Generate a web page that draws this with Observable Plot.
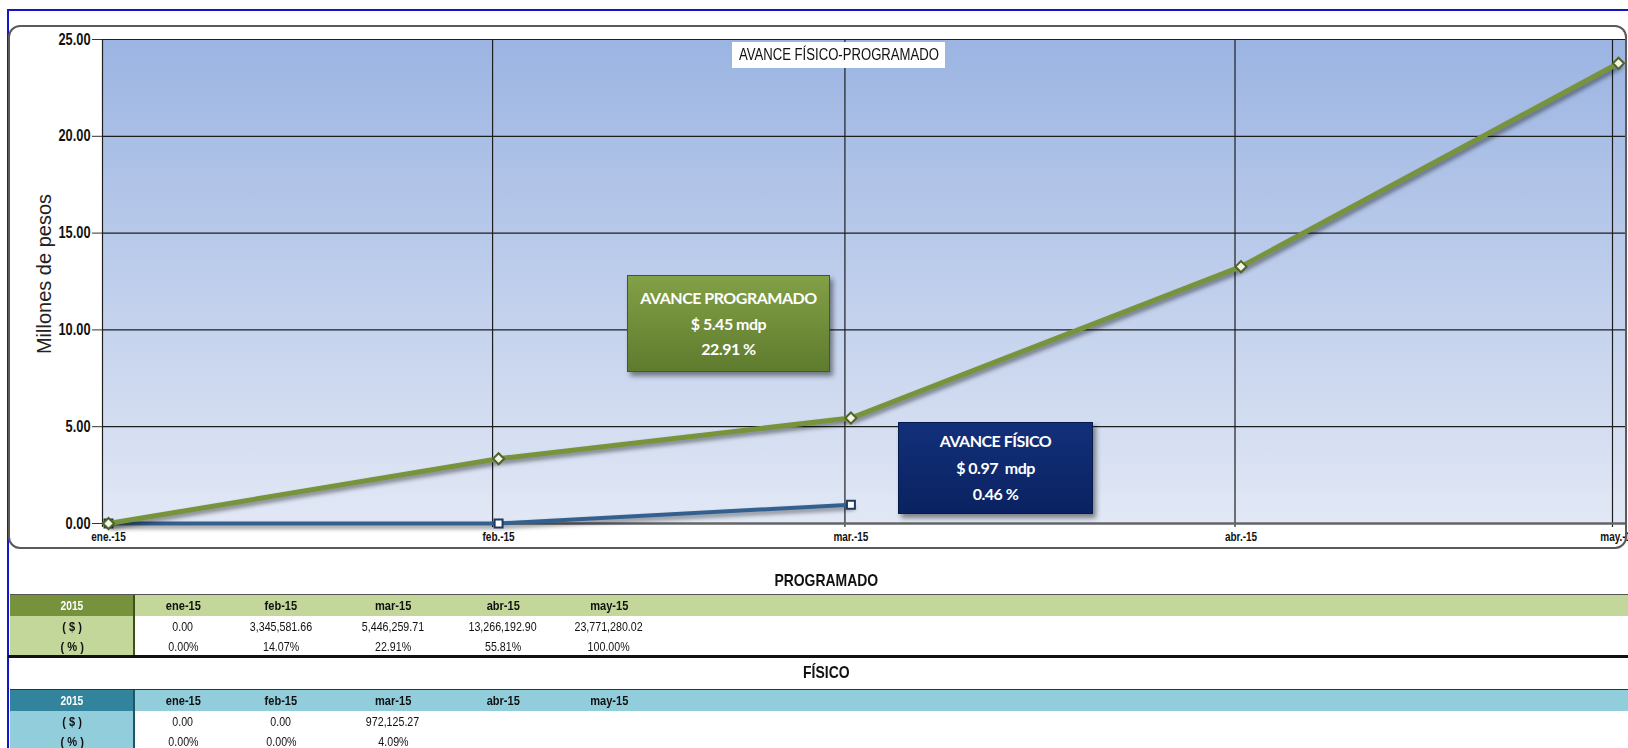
<!DOCTYPE html>
<html><head><meta charset="utf-8">
<script src="https://cdn.jsdelivr.net/npm/d3@7"></script>
<script src="https://cdn.jsdelivr.net/npm/@observablehq/plot@0.6"></script>
<style>
html,body{margin:0;padding:0;background:#fff;}
#wrap{position:relative;width:1628px;height:748px;overflow:hidden;font-family:"Liberation Sans",Arial,sans-serif;color:#111;}
#wrap svg{position:absolute;left:0;top:0;}
.abs{position:absolute;box-sizing:border-box;}
.ann{display:flex;flex-direction:column;justify-content:center;align-items:center;color:#fff;font-family:Lato,"Open Sans",sans-serif;font-weight:bold;font-size:16px;letter-spacing:-0.5px;box-shadow:3px 4px 5px rgba(0,0,0,0.45);}
.cell{position:absolute;box-sizing:border-box;display:flex;justify-content:center;align-items:center;white-space:nowrap;}
.nar{display:inline-block;transform:scaleX(0.82);transform-origin:50% 50%;white-space:pre;flex:none;}
</style></head>
<body><div id="wrap"></div>
<script>
// ---------- data ----------
const monthDates = ["2015-01-01","2015-02-01","2015-03-01","2015-04-01","2015-05-01"];
const axisMonths = ["ene.-15","feb.-15","mar.-15","abr.-15","may.-15"];
const tableMonths = ["ene-15","feb-15","mar-15","abr-15","may-15"];
const programadoPesos = [0.00, 3345581.66, 5446259.71, 13266192.90, 23771280.02];
const programadoPct = [0.00, 14.07, 22.91, 55.81, 100.00];
const fisicoPesos = [0.00, 0.00, 972125.27];
const fisicoPct = [0.00, 0.00, 4.09];
const yTicks = [0, 5, 10, 15, 20, 25];
const chartTitle = "AVANCE FÍSICO-PROGRAMADO";
const yLabel = "Millones de pesos";
const annProgramado = ["AVANCE PROGRAMADO", "$ 5.45 mdp", "22.91 %"];
const annFisico = ["AVANCE FÍSICO", "$ 0.97  mdp", "0.46 %"];
const yearLabel = "2015";
const rowLabels = ["( $ )", "( % )"];
const sectionTitles = ["PROGRAMADO", "FÍSICO"];

// ---------- chart ----------
const SANS = '"Liberation Sans",Arial,sans-serif';
const dates = monthDates.map(d => new Date(d + "T00:00:00Z"));
const progData = programadoPesos.map((v, i) => ({date: dates[i], value: v / 1e6}));
const fisData = fisicoPesos.map((v, i) => ({date: dates[i], value: v / 1e6}));
const labelOf = d => axisMonths[dates.findIndex(t => +t === +d)];

const chart = Plot.plot({
  width: 1628, height: 560,
  marginLeft: 102, marginRight: 3, marginTop: 39, marginBottom: 36,
  style: {background: "transparent", fontFamily: SANS, overflow: "visible", color: "#111"},
  x: {type: "utc", domain: [dates[0], dates[dates.length - 1]], range: [108, 1618], label: null},
  y: {domain: [0, 25], range: [523, 39], label: null},
  marks: [
    Plot.frame({fill: "url(#plotbg)", stroke: null}),
    Plot.ruleY(yTicks.filter(v => v > 0), {stroke: "#1e1e1e", strokeWidth: 1.2}),
    Plot.ruleX(dates, {dx: -6, stroke: "#1e1e1e", strokeWidth: 1.2, insetBottom: -3}),
    Plot.ruleY([0], {stroke: "#666", strokeWidth: 2.5}),
    Plot.axisY({ticks: yTicks, tickFormat: d3.format(".2f"), tickSize: 10, tickPadding: 2,
      fontSize: 16, fontWeight: "bold", stroke: "#333", label: null}),
    Plot.axisX({ticks: dates, tickFormat: labelOf, tickSize: 0, tickPadding: 8,
      fontSize: 12.5, fontWeight: "bold", label: null}),
    Plot.line(fisData, {x: "date", y: "value", stroke: "#34608f", strokeWidth: 4}),
    Plot.dot(fisData, {x: "date", y: "value", symbol: "square", r: 4.5, fill: "#fff", stroke: "#1f3864", strokeWidth: 2}),
    Plot.line(progData, {x: "date", y: "value", stroke: "#77933c", strokeWidth: 5}),
    Plot.dot(progData, {x: "date", y: "value", symbol: "diamond2", r: 5, fill: "#f3f5e4", stroke: "#4f6228", strokeWidth: 2})
  ]
});
const svg = d3.select(chart);
svg.insert("defs", ":first-child").html(
  '<linearGradient id="plotbg" x1="0" y1="0" x2="0" y2="1">' +
  '<stop offset="0" stop-color="#9bb4e2"/><stop offset="1" stop-color="#e2e8f5"/></linearGradient>');
svg.selectAll('g[aria-label="line"] path')
  .style("filter", "drop-shadow(2px 3px 2px rgba(0,0,0,0.45))");
// condense tick labels horizontally (narrow face look), keeping their own x/y offsets
function condense(sel, k) {
  sel.each(function() {
    const t = this.getAttribute("transform") || "";
    this.setAttribute("transform", `${t} scale(${k},1)`);
  });
}
condense(svg.selectAll('g[aria-label="x-axis tick label"] text'), 0.8);
condense(svg.selectAll('g[aria-label="y-axis tick label"] text'), 0.8);

const wrap = d3.select("#wrap");
wrap.node().appendChild(chart);

function nar(sel, text) { sel.append("span").attr("class", "nar").text(text); return sel; }

// y-axis title
wrap.append("div").attr("class", "abs")
  .style("left", "44px").style("top", "274px").style("white-space", "nowrap")
  .style("font-size", "20px").style("color", "#222")
  .style("transform", "translate(-50%,-50%) rotate(-90deg)").text(yLabel);

// page blue border
wrap.append("div").attr("class", "abs")
  .style("left", "7px").style("top", "9px").style("width", "1700px").style("height", "800px")
  .style("border-left", "2px solid #1414c8").style("border-top", "2px solid #1414c8");

// chart rounded frame
wrap.append("div").attr("class", "abs")
  .style("left", "8px").style("top", "25px").style("width", "1619px").style("height", "524px")
  .style("border", "2px solid #5a5a5a").style("border-radius", "12px");

// chart title box
nar(wrap.append("div").attr("class", "cell")
  .style("left", "732px").style("top", "42px").style("width", "213px").style("height", "26px")
  .style("background", "#fff").style("font-size", "16px"), chartTitle);

// annotation boxes
function annBox(lines, left, top, w, h, bg, border, lh) {
  const b = wrap.append("div").attr("class", "abs ann")
    .style("left", left + "px").style("top", top + "px").style("width", w + "px").style("height", h + "px")
    .style("background", bg).style("border", "1px solid " + border);
  lines.forEach(t => b.append("div").style("line-height", lh + "px").style("white-space", "pre").text(t));
}
annBox(annProgramado, 627, 275, 203, 97, "linear-gradient(#82a046,#5f7b2e)", "#465a20", 25.5);
annBox(annFisico, 898, 422, 195, 92, "linear-gradient(#12307a,#0a2260)", "#061a4c", 26.5);

// ---------- tables ----------
const colWidths = [98, 98, 126, 94, 118];
const labelLeft = 10, labelRight = 134;
const fmtPesos = d3.format(",.2f");
const fmtPct = v => v.toFixed(2) + "%";

function section(title, titleY, top, dark, light, divider, pesos, pct, topLineColor, bottomLine) {
  nar(wrap.append("div").attr("class", "cell").style("left", "626px").style("width", "400px")
    .style("top", (titleY - 11) + "px").style("height", "22px")
    .style("font-weight", "bold").style("font-size", "17px"), title);
  wrap.append("div").attr("class", "abs").style("left", labelLeft + "px").style("top", (top - 1) + "px")
    .style("width", "1700px").style("height", "1.5px").style("background", topLineColor);
  const rowsY = [top, top + 21, top + 41];
  const rowsH = [21, 20, 20];
  wrap.append("div").attr("class", "abs").style("left", labelRight + "px").style("top", top + "px")
    .style("width", "1600px").style("height", "21px").style("background", light);
  [dark, light, light].forEach((c, r) => {
    const txt = r === 0 ? yearLabel : rowLabels[r - 1];
    nar(wrap.append("div").attr("class", "cell")
      .style("left", labelLeft + "px").style("top", rowsY[r] + "px")
      .style("width", (labelRight - labelLeft) + "px").style("height", rowsH[r] + "px")
      .style("background", c)
      .style("color", r === 0 ? "#fff" : "#111").style("font-weight", "bold")
      .style("font-size", r === 0 ? "12.5px" : "13.5px"), txt);
  });
  wrap.append("div").attr("class", "abs").style("left", (labelRight - 1) + "px").style("top", top + "px")
    .style("width", "1.5px").style("height", "62px").style("background", divider);
  let x = labelRight;
  colWidths.forEach((w, i) => {
    const cells = [tableMonths[i],
      i < pesos.length ? fmtPesos(pesos[i]) : "",
      i < pct.length ? fmtPct(pct[i]) : ""];
    cells.forEach((t, r) => {
      nar(wrap.append("div").attr("class", "cell")
        .style("left", x + "px").style("top", rowsY[r] + "px")
        .style("width", w + "px").style("height", rowsH[r] + "px")
        .style("font-weight", r === 0 ? "bold" : "normal").style("font-size", r === 0 ? "13.5px" : "13px"), t);
    });
    x += w;
  });
  if (bottomLine) {
    wrap.append("div").attr("class", "abs").style("left", "8px").style("top", (top + 60) + "px")
      .style("width", "1700px").style("height", "3px").style("background", "#111");
  }
}
section(sectionTitles[0], 581, 595, "#76923c", "#c4d79b", "#3f4f1e", programadoPesos, programadoPct, "#555", true);
section(sectionTitles[1], 673, 690, "#31849b", "#92cddc", "#1d5664", fisicoPesos, fisicoPct, "#333", false);
</script>
</body></html>
